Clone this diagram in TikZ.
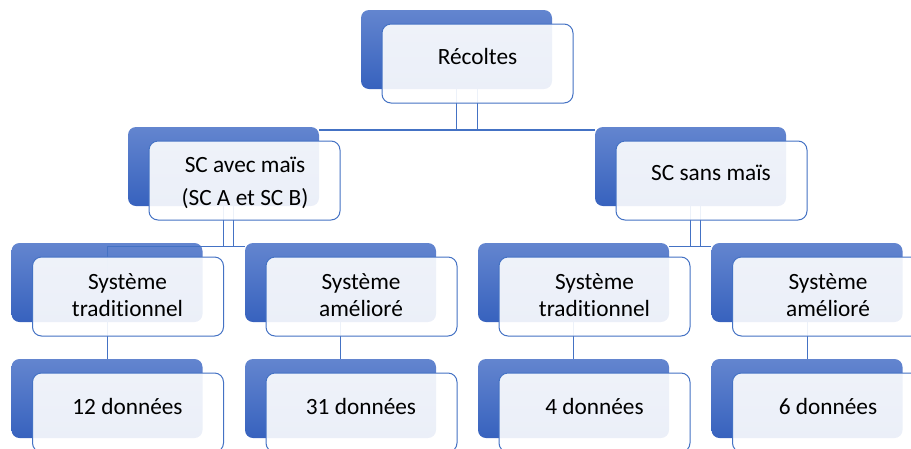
\documentclass[tikz,border=0pt]{standalone}
\usepackage{fontspec}
\setmainfont{Carlito}[Ligatures=NoCommon]
\usepackage{xcolor}
\definecolor{boxtop}{HTML}{6385CF}
\definecolor{boxbot}{HTML}{3762BE}
\definecolor{boxline}{HTML}{4472C4}

\tikzset{
  backbox/.style={rectangle, rounded corners=8pt, minimum width=191pt, minimum height=79pt, inner sep=0pt, top color=boxtop, bottom color=boxbot},
  frontbox/.style={rectangle, rounded corners=9pt, minimum width=191pt, minimum height=79pt, inner sep=0pt, draw=boxline, line width=1pt, fill=white, fill opacity=0.9},
  boxtext/.style={align=center, inner sep=0pt, font=\fontsize{23.3}{26.5}\selectfont},
  link/.style={draw=boxline, line width=1pt}
}

\begin{document}
\begin{tikzpicture}[x=1pt,y=-1pt]
    % Fix the page to the picture size
    \useasboundingbox (0,0) rectangle (911,448);
    \clip (0,0) rectangle (911,448);

    % Blue boxes behind
    \node[backbox] (recB)  at (456.5,49.5) {};
    \node[backbox] (avecB) at (223.5,166.5) {};
    \node[backbox] (sansB) at (690.5,166.5) {};
    \node[backbox] (trAB)  at (107,282.5) {};
    \node[backbox] (amAB)  at (340.5,282.5) {};
    \node[backbox] (trBB)  at (573.5,282.5) {};
    \node[backbox] (amBB)  at (807,282.5) {};
    \node[backbox] (dAB)   at (107,398.5) {};
    \node[backbox] (dBB)   at (340.5,398.5) {};
    \node[backbox] (dCB)   at (573.5,398.5) {};
    \node[backbox] (dDB)   at (807,398.5) {};

    % Heights of the horizontal bars
    \coordinate (busA) at (0,130);
    \coordinate (busB) at (0,246);
    \coordinate (recS) at ([xshift=21pt]recB.south);
    \coordinate (avecS) at ([xshift=10pt]avecB.south);
    \coordinate (sansS) at ([xshift=10pt]sansB.south);

    % Connectors from the top box
    \draw[link] (recB.south) -- (recB.south |- busA);
    \draw[link] (recS) -- (recS |- busA);
    \draw[link, line width=1.8pt] (avecB.east |- busA) -- (sansB.west |- busA);

    % Connectors from the second level
    \draw[link] (avecB.south) -- (avecB.south |- busB);
    \draw[link] (avecS) -- (avecS |- busB);
    \draw[link] (sansB.south) -- (sansB.south |- busB);
    \draw[link] (sansS) -- (sansS |- busB);
    \draw[link] (trAB.center |- busB) -- (amAB.west |- busB);
    \draw[link] (trBB.east |- busB) -- (amBB.west |- busB);

    % Connectors down to the counts
    \draw[link] (trAB.center |- busB) -- (dAB.north);
    \draw[link] (amAB.south) -- (dBB.north);
    \draw[link] (trBB.south) -- (dCB.north);
    \draw[link] (amBB.south) -- (dDB.north);

    % White boxes in front
    \node[frontbox] (recF)  at (477.5,63.5) {};
    \node[frontbox] (avecF) at (244.5,180.5) {};
    \node[frontbox] (sansF) at (711.5,180.5) {};
    \node[frontbox] (trAF)  at (128,296.5) {};
    \node[frontbox] (amAF)  at (361.5,296.5) {};
    \node[frontbox] (trBF)  at (594.5,296.5) {};
    \node[frontbox] (amBF)  at (828,296.5) {};
    \node[frontbox] (dAF)   at (128,412.5) {};
    \node[frontbox] (dBF)   at (361.5,412.5) {};
    \node[frontbox] (dCF)   at (594.5,412.5) {};
    \node[frontbox] (dDF)   at (828,412.5) {};

    % Texts
    \node[boxtext] (recT)  at (477.5,56) {Récoltes};
    \node[boxtext, font=\fontsize{23.3}{32.5}\selectfont] (avecT) at (245,183) {SC avec maïs\\(SC A et SC B)};
    \node[boxtext] (sansT) at (711,173) {SC sans maïs};
    \node[boxtext] (trAT)  at (127.5,295) {Système\\traditionnel};
    \node[boxtext] (amAT)  at (361,295) {Système\\amélioré};
    \node[boxtext] (trBT)  at (594.5,295) {Système\\traditionnel};
    \node[boxtext] (amBT)  at (828,295) {Système\\amélioré};
    \node[boxtext] (dAT)   at (127.5,406) {12 données};
    \node[boxtext] (dBT)   at (361,406) {31 données};
    \node[boxtext] (dCT)   at (594.5,406) {4 données};
    \node[boxtext] (dDT)   at (828,406) {6 données};
\end{tikzpicture}
\end{document}
